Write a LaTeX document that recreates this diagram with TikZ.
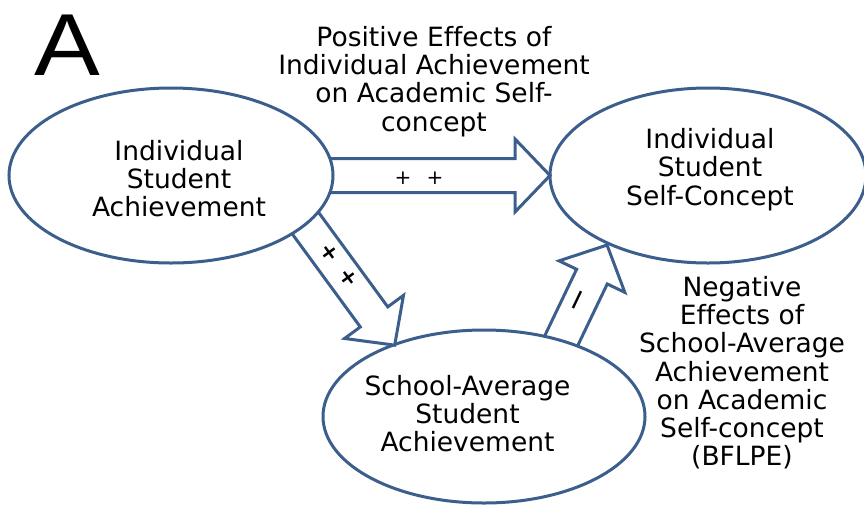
\documentclass[tikz,border=0pt]{standalone}
\usepackage{fontspec}
\setmainfont{DejaVu Sans}[Ligatures=NoCommon]
\newfontfamily\Afont{Liberation Sans}
\usetikzlibrary{shapes.geometric}
\definecolor{edgeblue}{RGB}{59,94,140}
\tikzset{
  oval/.style={ellipse, draw=edgeblue, line width=3pt, fill=white, inner sep=0pt},
  lbl/.style={align=center, inner sep=0pt, font=\fontsize{26.5}{28.3}\selectfont},
  sign/.style={inner sep=0pt, font=\fontsize{20}{20}\selectfont},
  boldsign/.style={inner sep=0pt, font=\bfseries\fontsize{22}{22}\selectfont},
  arrowline/.style={draw=edgeblue, line width=3pt, fill=white, line join=miter},
  pics/blockarrow/.style={code={
    \draw[arrowline] (0,-17) -- (#1-35,-17) -- (#1-35,-36.5) -- (#1,0)
      -- (#1-35,36.5) -- (#1-35,17) -- (0,17) -- cycle;
  }}
}
\begin{document}
\begin{tikzpicture}[x=1pt,y=-1pt]
\useasboundingbox (0,0) rectangle (864,507);
% right ellipse
\node[oval, minimum width=316pt, minimum height=175pt] (selfc) at (708,175.5) {};
% arrows into right ellipse
\coordinate (hS) at (300,175.5);
\coordinate (uS) at (544.4,375.8);
\pic at (hS) {blockarrow=250};
\pic[rotate=64.4] at (uS) {blockarrow=145};
% bottom ellipse
\node[oval, minimum width=322pt, minimum height=173pt] (school) at (484,416.5) {};
% diagonal arrow
\coordinate (dS) at (288.4,199.9);
\pic[rotate=-53.8] at (dS) {blockarrow=180};
% left ellipse
\node[oval, minimum width=324pt, minimum height=175pt] (indiv) at (171,175.5) {};
% texts
\node[lbl] (tIndiv) at (179,178.5) {Individual\\Student\\Achievement};
\node[lbl] (tSelf) at (710,169.5) {Individual\\Student\\Self-Concept};
\node[lbl] (tSchool) at (467.5,413.5) {School-Average\\Student\\Achievement};
\node[lbl] (tTop) at (434,81.5) {Positive Effects of\\Individual Achievement\\on Academic Self-\\concept};
\node[lbl] (tRight) at (742,372.75) {Negative\\Effects of\\School-Average\\Achievement\\on Academic\\Self-concept\\(BFLPE)};
% signs
\node[sign] (p1) at (403,178) {+};
\node[sign] (p2) at (435,178) {+};
\node[boldsign, rotate=-53.8] (p3) at (330,253) {+};
\node[boldsign, rotate=-53.8] (p4) at (349,278) {+};
\node[sign, font=\fontsize{30}{30}\selectfont, rotate=64.4] (m1) at (581,302) {−};
% panel letter
\node[inner sep=0pt, anchor=base, xscale=1.12, transform shape, font=\Afont\fontsize{88}{88}\selectfont] (letterA) at (67.5,75) {A};
\end{tikzpicture}
\end{document}
